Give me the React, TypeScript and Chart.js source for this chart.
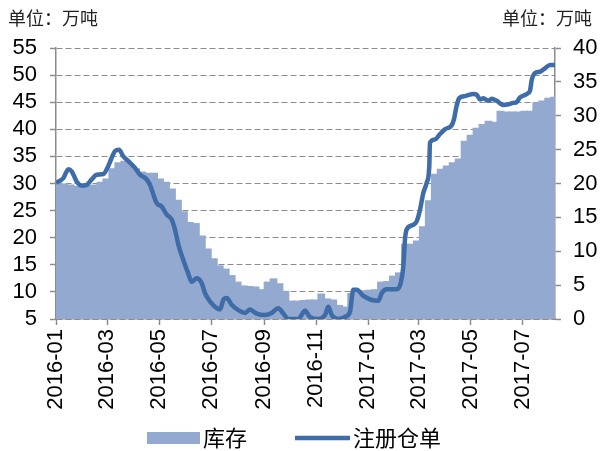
import React, { useEffect, useRef } from "react";
import { Chart, registerables } from "chart.js";

Chart.register(...registerables);

const UNIT_LABEL = "单位：万吨";
const STOCK_LABEL = "库存";
const WARRANT_LABEL = "注册仓单";

const ORIGIN = "2016-01-01";
const AXIS_END = "2017-08-08";
const MONTH_TICKS = [
  "2016-01", "2016-03", "2016-05", "2016-07", "2016-09",
  "2016-11", "2017-01", "2017-03", "2017-05", "2017-07",
];

// weekly inventory (库存), 万吨, first week centred on 2016-01-04
const STOCK_FIRST_WEEK = "2016-01-04";
const stockValues = [
  30.2, 30.0, 29.8, 29.6, 29.6, 29.7, 29.8, 30.3, 30.9, 32.8,
  33.9, 34.2, 33.7, 32.8, 32.2, 32.0, 32.0, 30.9, 30.3, 29.1,
  27.0, 24.9, 22.9, 22.7, 20.4, 18.0, 16.2, 14.9, 14.3, 13.1,
  11.9, 11.2, 11.1, 11.0, 10.5, 11.9, 12.5, 11.6, 10.2, 8.4,
  8.4, 8.5, 8.6, 8.6, 9.7, 8.8, 8.6, 7.6, 7.3, 9.8,
  10.1, 10.3, 10.4, 10.5, 11.9, 12.0, 13.0, 13.6, 18.9, 18.9,
  19.5, 22.1, 26.9, 31.8, 32.7, 33.3, 33.9, 34.6, 37.9, 39.0,
  40.3, 41.0, 41.6, 41.4, 43.4, 43.3, 43.3, 43.3, 43.4, 43.4,
  45.0, 45.3, 45.8, 46.0,
];

// registered warrants (注册仓单), 万吨; day = days since 2016-01-01
const warrantDay = [
  0, 8.6, 14.5, 18.4, 24.2, 30, 36, 41.8, 47.7, 55.5,
  61.3, 65.3, 69.2, 73.9, 78.9, 84.8, 92.6, 98.5, 106.3, 110.2,
  114.1, 118, 123.9, 129.8, 135.6, 139.5, 143.4, 149.2, 155.1, 159,
  164.9, 170.8, 174.7, 180.5, 188.4, 192.3, 196.1, 200.1, 206, 213.7,
  221.6, 227.4, 235.3, 245, 252.9, 260.6, 266.5, 272.3, 284, 291.9,
  297.8, 307.5, 315.4, 319.3, 323.2, 331, 338.8, 344.7, 348.5, 352.5,
  360.3, 370.1, 377.9, 381.8, 387.7, 399.4, 404.1, 407.2, 409.1, 411.1,
  418.9, 422.8, 426.7, 430.6, 434.6, 437.6, 438.4, 444.3, 450.2, 456,
  463.9, 466.6, 469.7, 472.8, 479.5, 489.3, 493.2, 497.1, 501, 506.8,
  510.8, 516.6, 524.4, 530.3, 536.1, 540, 544, 551.8, 555.7, 557.6,
  561.5, 567.4, 573.3, 579.1, 585,
];
const warrantValues = [
  20.1, 20.8, 22.1, 21.8, 20.3, 19.7, 19.8, 20.6, 21.3, 21.4,
  22.6, 23.8, 24.8, 25.0, 24.0, 23.3, 22.3, 21.3, 20.6, 19.8,
  18.4, 17.1, 16.6, 15.4, 14.7, 13.2, 11.0, 8.7, 6.7, 5.5,
  6.0, 5.3, 3.8, 2.6, 1.6, 1.4, 2.8, 3.1, 2.1, 1.3,
  0.9, 1.4, 0.8, 0.6, 0.9, 1.6, 0.8, 0.0, 0.0, 1.2,
  0.3, 0.0, 0.6, 1.8, 0.6, 0.0, 0.3, 1.1, 4.3, 4.3,
  3.4, 2.8, 2.7, 3.8, 4.4, 4.4, 5.3, 7.8, 11.7, 13.2,
  13.9, 14.4, 16.1, 18.6, 20.1, 22.5, 26.0, 26.5, 27.3, 28.0,
  28.6, 29.5, 31.5, 32.6, 32.9, 33.2, 33.1, 32.4, 32.6, 32.2,
  32.5, 32.2, 31.6, 31.7, 31.9, 32.0, 32.7, 33.2, 33.7, 35.2,
  36.3, 36.5, 37.0, 37.5, 37.5,
];

const BAR_COLOR = "#93a9cf";
const LINE_COLOR = "#3e6ca8";
const AXIS_COLOR = "#8c8c8c";
const NUM_FONT = '"Liberation Sans", Arial, sans-serif';
const CJK_FONT = '"Noto Sans CJK SC", sans-serif';

function dayOf(s: string): number {
  const [y, m, d] = s.split("-").map(Number);
  const [oy, om, od] = ORIGIN.split("-").map(Number);
  return (Date.UTC(y, m - 1, d || 1) - Date.UTC(oy, om - 1, od)) / 86400000;
}

export default function App() {
  const ref = useRef<HTMLCanvasElement>(null);

  useEffect(() => {
    const firstWeek = dayOf(STOCK_FIRST_WEEK);
    const stockPoints = stockValues.map((v, i) => ({ x: firstWeek + 7 * i, y: v }));
    const warrantPoints = warrantValues.map((v, i) => ({ x: warrantDay[i], y: v }));
    const tickDays = MONTH_TICKS.map((m) => dayOf(m + "-01"));

    const legendPlugin = {
      id: "customLegend",
      afterDraw(chart: any) {
        const ctx = chart.ctx;
        ctx.save();
        const cy = 438;
        ctx.fillStyle = BAR_COLOR;
        ctx.fillRect(147, cy - 6, 53, 12);
        ctx.fillStyle = "#000";
        ctx.font = `22px ${CJK_FONT}`;
        ctx.textBaseline = "middle";
        ctx.textAlign = "left";
        ctx.fillText(STOCK_LABEL, 203, cy);
        ctx.strokeStyle = LINE_COLOR;
        ctx.lineWidth = 4.5;
        ctx.lineCap = "butt";
        ctx.beginPath();
        ctx.moveTo(295, cy);
        ctx.lineTo(350, cy);
        ctx.stroke();
        ctx.fillText(WARRANT_LABEL, 353, cy);
        ctx.restore();
      },
    };

    const chart = new Chart(ref.current as HTMLCanvasElement, {
      type: "bar",
      data: {
        datasets: [
          {
            type: "line",
            label: WARRANT_LABEL,
            data: warrantPoints,
            yAxisID: "y1",
            xAxisID: "x",
            borderColor: LINE_COLOR,
            backgroundColor: LINE_COLOR,
            borderWidth: 4.5,
            pointRadius: 0,
            cubicInterpolationMode: "monotone",
            order: 0,
          } as any,
          {
            type: "bar",
            label: STOCK_LABEL,
            data: stockPoints,
            yAxisID: "y",
            xAxisID: "x",
            backgroundColor: BAR_COLOR,
            borderWidth: 0,
            barPercentage: 1.3,
            categoryPercentage: 1,
            order: 1,
          } as any,
        ],
      },
      options: {
        responsive: false,
        animation: false,
        devicePixelRatio: 1,
        events: [],
        layout: { padding: { top: 48, left: 0, right: 0, bottom: 0 } },
        plugins: {
          legend: { display: false },
          tooltip: { enabled: false },
          title: { display: false },
        },
        scales: {
          x: {
            type: "linear",
            min: 0,
            max: dayOf(AXIS_END),
            offset: false,
            afterBuildTicks: (s: any) => {
              s.ticks = tickDays.map((v) => ({ value: v }));
            },
            afterFit: (s: any) => {
              s.height = 132;
            },
            ticks: {
              autoSkip: false,
              minRotation: 90,
              maxRotation: 90,
              padding: 4,
              color: "#000",
              font: { family: NUM_FONT, size: 22 },
              callback: (_v: any, i: number) => MONTH_TICKS[i],
            },
            grid: {
              offset: false,
              drawOnChartArea: false,
              drawTicks: true,
              tickLength: 6,
              tickColor: AXIS_COLOR,
              tickWidth: 1.5,
            },
            border: { color: AXIS_COLOR, width: 1.5 },
          },
          y: {
            type: "linear",
            position: "left",
            min: 5,
            max: 55,
            beginAtZero: false,
            afterFit: (s: any) => {
              s.width = 56;
            },
            ticks: {
              stepSize: 5,
              autoSkip: false,
              padding: 13,
              color: "#000",
              font: { family: NUM_FONT, size: 22 },
            },
            grid: {
              color: AXIS_COLOR,
              lineWidth: 1,
              drawTicks: true,
              tickLength: 6,
              tickColor: AXIS_COLOR,
              tickWidth: 1.5,
              tickBorderDash: [],
            },
            border: { color: AXIS_COLOR, width: 1.5, dash: [6, 3] },
          },
          y1: {
            type: "linear",
            position: "right",
            min: 0,
            max: 40,
            beginAtZero: false,
            afterFit: (s: any) => {
              s.width = 45;
            },
            ticks: {
              stepSize: 5,
              autoSkip: false,
              padding: 12,
              color: "#000",
              font: { family: NUM_FONT, size: 22 },
            },
            grid: {
              drawOnChartArea: false,
              drawTicks: true,
              tickLength: 6,
              tickColor: AXIS_COLOR,
              tickWidth: 1.5,
            },
            border: { color: AXIS_COLOR, width: 1.5 },
          },
        },
      } as any,
      plugins: [legendPlugin],
    });
    return () => chart.destroy();
  }, []);

  const unitStyle: React.CSSProperties = {
    position: "absolute",
    top: 7,
    fontFamily: CJK_FONT,
    fontSize: 18,
    lineHeight: "20px",
    color: "#222",
    whiteSpace: "nowrap",
  };

  return (
    <div style={{ position: "absolute", left: 0, top: 0, width: 600, height: 451, background: "#fff" }}>
      <canvas ref={ref} width={600} height={451} style={{ display: "block" }} />
      <span style={{ ...unitStyle, left: 8 }}>{UNIT_LABEL}</span>
      <span style={{ ...unitStyle, right: 8 }}>{UNIT_LABEL}</span>
    </div>
  );
}
